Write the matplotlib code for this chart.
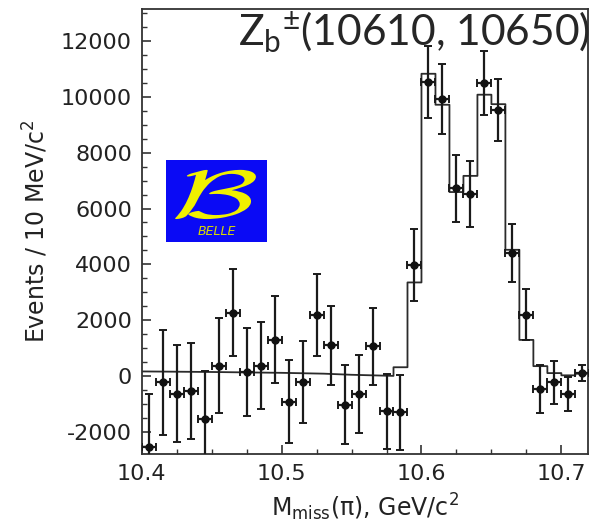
import numpy as np
import matplotlib
matplotlib.use("Agg")
import matplotlib.pyplot as plt
from matplotlib.ticker import MultipleLocator
from matplotlib.textpath import TextPath
from matplotlib.patches import PathPatch
from matplotlib.font_manager import FontProperties
from matplotlib.transforms import Affine2D

plt.rcParams["axes.unicode_minus"] = False
plt.rcParams["mathtext.default"] = "regular"

# missing-mass spectrum, 10 MeV bins from 10.40 to 10.72
bin_lo = 10.40
bin_w = 0.01
events = [-2560, -230, -640, -540, -1550, 360, 2270, 150, 360, 1300,
          -920, -220, 2190, 1090, -1030, -640, 1060, -1270, -1310, 3980,
          10530, 9930, 6720, 6530, 10510, 9530, 4400, 2200, -480, -230,
          -650, 100]
errors = [1900, 1880, 1740, 1720, 1710, 1700, 1570, 1570, 1560, 1560,
          1480, 1470, 1460, 1430, 1410, 1400, 1380, 1350, 1340, 1290,
          1280, 1245, 1215, 1175, 1150, 1095, 1030, 930, 860, 760,
          610, 300]

# fit: smooth background below threshold, then binned signal+bkg
bkg_x = [10.40, 10.45, 10.50, 10.53, 10.55, 10.58]
bkg_y = [160, 140, 110, 80, 40, 0]
fit_edges = [10.58, 10.59, 10.60, 10.61, 10.62, 10.63, 10.64, 10.65,
             10.66, 10.67, 10.68, 10.69, 10.70, 10.71, 10.72]
fit_vals = [310, 3350, 10830, 9720, 6590, 7170, 10080, 9740,
            4520, 1290, 350, 100, 20, 80]

centers = bin_lo + bin_w * (np.arange(len(events)) + 0.5)

fig = plt.figure(figsize=(5.91, 5.32), dpi=100)
ax = fig.add_axes([0.2398, 0.1466, 0.755, 0.8364])

# fit curve: background line joined to step histogram
fx = np.repeat(fit_edges, 2)[1:-1]
fy = np.repeat(fit_vals, 2)
ax.plot(np.concatenate([bkg_x, fx]), np.concatenate([bkg_y, fy]),
        color="#2b2b2b", lw=1.3, zorder=2)

ax.errorbar(centers, events, yerr=errors, xerr=bin_w / 2, fmt="o",
            ms=5, color="#111111", ecolor="#1a1a1a", elinewidth=1.6,
            capsize=2.6, capthick=1.4, zorder=3)

ax.set_xlim(10.40, 10.719)
ax.set_ylim(-2800, 13150)
ax.xaxis.set_minor_locator(MultipleLocator(0.025))
ax.yaxis.set_major_locator(MultipleLocator(2000))
ax.yaxis.set_minor_locator(MultipleLocator(500))
ax.set_xticks([10.4, 10.5, 10.6, 10.7])
ax.set_xticklabels(["10.4", "10.5", "10.6", "10.7"])
ax.tick_params(which="both", direction="in", top=False, right=False,
               color="#333333", labelsize=16, labelcolor="#222222")
ax.tick_params(which="major", length=6.3, width=1.2, pad=7)
ax.tick_params(which="minor", length=3.4, width=1.0)
for s in ax.spines.values():
    s.set_color("#333333")
    s.set_linewidth(1.3)

ax.set_xlabel(r"M$_{miss}$($\pi$), GeV/c$^2$", fontsize=17, color="#222222",
              labelpad=6)
ax.set_ylabel("Events / 10 MeV/c$^2$", fontsize=17, color="#222222",
              labelpad=8)

fig.text(0.403, 0.9154, r"Z$_b$$^{\pm}$(10610, 10650)", family="Lato",
         fontsize=30.6, color="#262626", ha="left", va="baseline")

# Belle logo: blue box with a stretched script B
logo = fig.add_axes([0.2809, 0.5451, 0.1709, 0.1541])
logo.set_facecolor("#0a0af5")
logo.set_xlim(0, 1)
logo.set_ylim(0, 1)
logo.set_xticks([])
logo.set_yticks([])
for s in logo.spines.values():
    s.set_visible(False)
bpath = TextPath((0, 0), r"$\mathcal{B}$", size=1,
                 prop=FontProperties(math_fontfamily="cm"))
ext = bpath.get_extents()
tr = (Affine2D().translate(-ext.x0, -ext.y0)
      .scale(0.80 / ext.width, 0.60 / ext.height)
      .translate(0.09, 0.28))
logo.add_patch(PathPatch(tr.transform_path(bpath), fc="#f0f000", lw=0))
logo.text(0.50, 0.13, "BELLE", color="#d8d800", fontsize=9, style="italic",
          ha="center", va="center")

fig.savefig("out.png", dpi=100)
